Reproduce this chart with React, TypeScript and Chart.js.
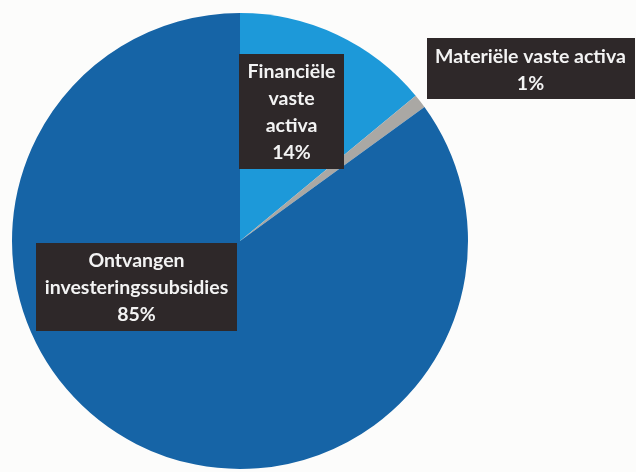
import React, { useEffect, useRef } from "react";
import Chart from "chart.js/auto";

const categories = ["Financiële vaste activa", "Materiële vaste activa", "Ontvangen investeringssubsidies"];
const values = [14, 1, 85];
const labelLines = [
  ["Financiële", "vaste", "activa", "14%"],
  ["Materiële vaste activa", "1%"],
  ["Ontvangen", "investeringssubsidies", "85%"],
];
const colors = ["#1d99d9", "#aaa8a4", "#1664a6"];
// label box centres, relative to pie centre in units of radius (layout only)
const labelOffsets = [
  [0.226, -0.568],
  [1.274, -0.755],
  [-0.454, 0.2],
];

const labelPlugin = {
  id: "boxLabels",
  afterDatasetsDraw(chart: any) {
    const ctx = chart.ctx;
    const meta = chart.getDatasetMeta(0);
    meta.data.forEach((arc: any, i: number) => {
      const { x, y, outerRadius } = arc.getProps(["x", "y", "outerRadius"], true);
      const cx = x + labelOffsets[i][0] * outerRadius;
      const cy = y + labelOffsets[i][1] * outerRadius;
      const lines = labelLines[i];
      ctx.save();
      ctx.font = "bold 19.5px Lato";
      const lh = 27;
      const padH = 8.5;
      const padV = 3.5;
      const w = Math.max(...lines.map((l: string) => ctx.measureText(l).width)) + padH * 2;
      const h = lines.length * lh + padV * 2;
      ctx.fillStyle = "#2e2829";
      ctx.fillRect(Math.round(cx - w / 2), Math.round(cy - h / 2), Math.round(w), Math.round(h));
      ctx.fillStyle = "#f3f3f3";
      ctx.textAlign = "center";
      ctx.textBaseline = "middle";
      lines.forEach((l: string, k: number) => {
        ctx.fillText(l, cx, cy - h / 2 + padV + lh * k + lh / 2 + 1);
      });
      ctx.restore();
    });
  },
};

export default function App() {
  const ref = useRef<HTMLCanvasElement>(null);
  useEffect(() => {
    if (!ref.current) return;
    const chart = new Chart(ref.current, {
      type: "pie",
      data: {
        labels: categories,
        datasets: [
          {
            data: values,
            backgroundColor: colors,
            borderWidth: 0,
          },
        ],
      },
      options: {
        responsive: false,
        animation: false,
        layout: { padding: { left: 12, right: 168, top: 13, bottom: 3 } },
        plugins: {
          legend: { display: false },
          tooltip: { enabled: false },
        },
      },
      plugins: [labelPlugin],
    });
    return () => chart.destroy();
  }, []);
  return (
    <div style={{ position: "absolute", left: 0, top: 0, width: 636, height: 472, background: "#fcfcfb" }}>
      <canvas ref={ref} width={636} height={472} style={{ width: 636, height: 472 }} />
    </div>
  );
}
